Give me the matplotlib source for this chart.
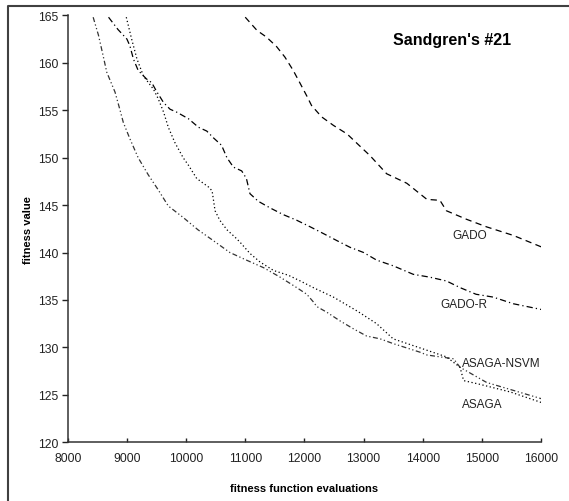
"""Sandgren's #21: fitness value vs. fitness function evaluations."""
import matplotlib
matplotlib.use("Agg")
import matplotlib.pyplot as plt
from matplotlib.lines import Line2D

plt.rcParams["font.family"] = ["Liberation Sans", "DejaVu Sans"]

# --- data ------------------------------------------------------------------
gado_x = [11000, 11200, 11360, 11530, 11670, 11810, 11930, 12040, 12120,
          12290, 12490, 12720, 12940, 13110, 13390, 13730, 14070, 14290,
          14400, 14740, 15080, 15530, 16000]
gado_y = [164.8, 163.4, 162.7, 161.7, 160.6, 159.2, 157.8, 156.5, 155.5,
          154.3, 153.4, 152.5, 151.2, 150.2, 148.3, 147.3, 145.6, 145.5,
          144.4, 143.5, 142.7, 141.8, 140.6]

gado_r_x = [8690, 8850, 9000, 9050, 9110, 9190, 9330, 9420, 9500, 9620,
            9730, 9840, 10040, 10210, 10350, 10460, 10600, 10690, 10800,
            10940, 11020, 11080, 11220, 11420, 11640, 11870, 12100, 12320,
            12550, 12770, 13000, 13220, 13500, 13840, 14120, 14400, 14630,
            14900, 15190, 15530, 16000]
gado_r_y = [164.8, 163.5, 162.5, 161.8, 160.4, 159.2, 158.3, 157.9, 157.0,
            155.8, 155.1, 154.8, 154.1, 153.2, 152.8, 152.1, 151.3, 150.0,
            149.0, 148.6, 147.8, 146.2, 145.4, 144.7, 144.0, 143.4, 142.7,
            142.0, 141.25, 140.55, 140.0, 139.2, 138.6, 137.7, 137.4, 137.0,
            136.3, 135.6, 135.3, 134.6, 134.0]

asaga_nsvm_x = [8430, 8520, 8600, 8660, 8720, 8800, 8880, 8940, 9050, 9190,
                9360, 9530, 9700, 9950, 10200, 10450, 10740, 11020, 11310,
                11590, 11870, 12040, 12150, 12210, 12380, 12600, 12830,
                13050, 13280, 13500, 13950, 14070, 14520, 14630, 15080,
                16000]
asaga_nsvm_y = [164.8, 162.9, 160.7, 159.0, 158.1, 156.9, 155.1, 153.7,
                152.0, 150.0, 148.2, 146.6, 144.9, 143.7, 142.4, 141.3,
                140.0, 139.2, 138.4, 137.4, 136.3, 135.6, 134.8, 134.3,
                133.7, 132.8, 131.95, 131.2, 130.9, 130.4, 129.5, 129.2,
                128.8, 127.9, 126.3, 124.6]

asaga_x = [8990, 9080, 9170, 9280, 9450, 9530, 9620, 9700, 9810, 9950,
           10040, 10180, 10380, 10440, 10490, 10570, 10690, 10830, 10910,
           11080, 11250, 11480, 11730, 11930, 12150, 12490, 12900, 13220,
           13500, 14070, 14400, 14630, 14690, 14970, 15480, 16000]
asaga_y = [164.8, 162.5, 160.4, 158.6, 157.2, 156.2, 154.8, 153.2, 151.6,
           150.0, 149.2, 147.8, 146.9, 146.5, 144.4, 143.4, 142.4, 141.6,
           141.1, 139.9, 139.0, 138.1, 137.6, 137.0, 136.3, 135.3, 133.8,
           132.5, 130.9, 129.7, 129.0, 127.9, 126.5, 126.1, 125.3, 124.2]

x_ticks = list(range(8000, 16001, 1000))
y_ticks = list(range(120, 166, 5))

# --- figure -----------------------------------------------------------------
fig = plt.figure(figsize=(5.69, 5.02), dpi=100)
ax = fig.add_axes([0.119, 0.117, 0.832, 0.8505])

ax.plot(gado_x, gado_y, color="black", lw=0.9, dashes=(5, 3.5))
ax.plot(gado_r_x, gado_r_y, color="black", lw=0.9, dashes=(5, 2.5, 1, 2.5))
ax.plot(asaga_nsvm_x, asaga_nsvm_y, color="#333333", lw=0.9,
        dashes=(4, 2, 1, 2, 1, 2))
ax.plot(asaga_x, asaga_y, color="black", lw=0.9, dashes=(1, 2))

ax.text(14500, 141.85, "GADO", fontsize=8.5, va="center", color="#222222")
ax.text(14300, 134.6, "GADO-R", fontsize=8.5, va="center", color="#222222")
ax.text(14660, 128.4, "ASAGA-NSVM", fontsize=8.5, va="center",
        color="#222222")
ax.text(14660, 124.0, "ASAGA", fontsize=8.5, va="center", color="#222222")
ax.text(13500, 162.5, "Sandgren's #21", fontsize=11.5, fontweight="bold",
        va="center")

ax.set_xlim(8000, 16000)
ax.set_ylim(120, 165)
ax.set_xticks(x_ticks)
ax.set_yticks(y_ticks)
for s in ("top", "right"):
    ax.spines[s].set_visible(False)
for s in ("left", "bottom"):
    ax.spines[s].set_linewidth(1.1)
    ax.spines[s].set_color("#333333")
ax.tick_params(axis="y", direction="out", length=4, width=1,
               labelsize=8.7, pad=3, colors="#222222")
ax.tick_params(axis="x", direction="in", length=3, width=1,
               labelsize=8.7, pad=7, colors="#222222")
ax.set_xlabel("fitness function evaluations", fontsize=8, fontweight="bold",
              labelpad=14)
ax.set_ylabel("fitness value", fontsize=8, fontweight="bold", labelpad=3)

# outer frame (only the left and top edges are visible in the reference)
x0, y0 = 8 / 569, 1 - 7 / 502
fig.add_artist(Line2D([x0, x0, 1.01], [-0.01, y0, y0],
                      transform=fig.transFigure, color="#404040", lw=1.5))

fig.savefig("out.png", dpi=100, facecolor="white")
